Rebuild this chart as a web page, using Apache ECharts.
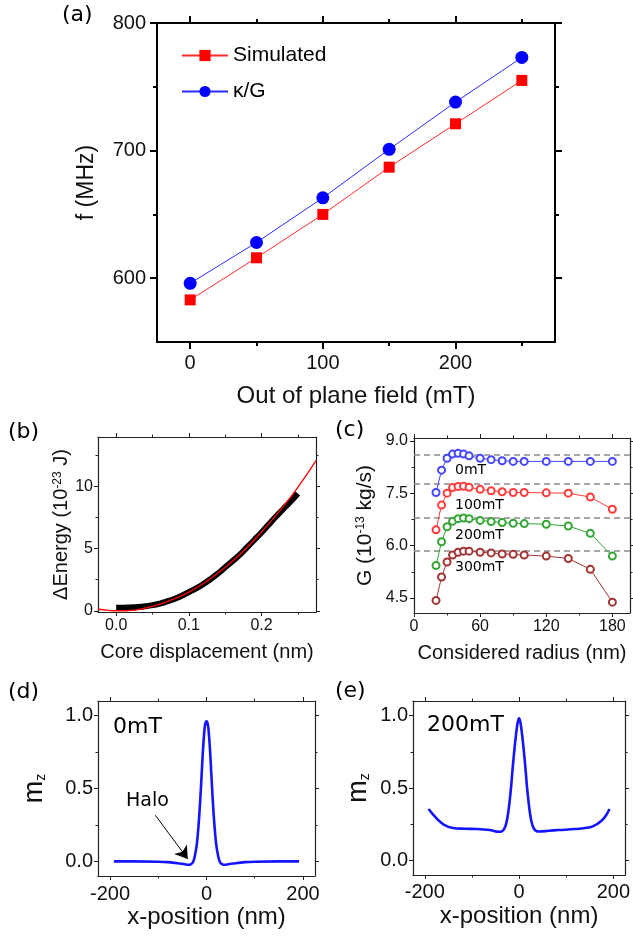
<!DOCTYPE html>
<html><head><meta charset="utf-8">
<script src="https://cdn.jsdelivr.net/npm/echarts@6/dist/echarts.min.js"></script>
<style>html,body{margin:0;padding:0;background:#fff}#c{width:633px;height:937px}</style>
</head><body><div id="c"></div>
<script>
// ---------- Panel (a) ----------
const fieldA = [0, 50, 100, 150, 200, 250];
const simulatedA = [583, 616, 650, 687, 721, 755];
const kappaGA = [596, 628, 663, 701, 738, 773];
const aXMajor = [0, 100, 200], aXMinor = [50, 150, 250];
const aYMajor = [600, 700, 800], aYMinor = [650, 750];

// ---------- Panel (b) ----------
const bandX = [0, 0.01, 0.02, 0.03, 0.04, 0.05, 0.06, 0.07, 0.08, 0.09, 0.10, 0.11, 0.12, 0.13, 0.14, 0.15, 0.16, 0.17, 0.18, 0.19, 0.20, 0.21, 0.22, 0.23, 0.24, 0.25];
const bandY = [0.25, 0.25, 0.27, 0.30, 0.36, 0.45, 0.58, 0.75, 0.95, 1.2, 1.5, 1.8, 2.15, 2.55, 3.0, 3.5, 4.0, 4.5, 5.1, 5.7, 6.3, 6.95, 7.6, 8.2, 8.8, 9.45];
const fitX = [-0.025, -0.01, 0, 0.01, 0.02, 0.03, 0.05, 0.075, 0.1, 0.125, 0.15, 0.175, 0.2, 0.225, 0.25, 0.275];
const fitY = [0.12, 0.03, 0.0, 0.0, 0.03, 0.1, 0.35, 0.85, 1.5, 2.4, 3.5, 4.8, 6.35, 8.05, 9.95, 12.1];
const bXMajor = [0, 0.1, 0.2], bXMinor = [0.05, 0.15, 0.25];
const bYMajor = [0, 5, 10], bYMinor = [2.5, 7.5, 12.5];

// ---------- Panel (c) ----------
const radiusC = [20, 25, 30, 35, 40, 45, 50, 60, 70, 80, 90, 100, 120, 140, 160, 180];
const g0mT = [7.52, 8.16, 8.50, 8.62, 8.64, 8.62, 8.57, 8.50, 8.46, 8.43, 8.41, 8.41, 8.41, 8.41, 8.41, 8.41];
const g100mT = [6.45, 7.16, 7.50, 7.66, 7.69, 7.70, 7.67, 7.61, 7.57, 7.54, 7.52, 7.52, 7.51, 7.50, 7.39, 7.04];
const g200mT = [5.43, 6.11, 6.54, 6.70, 6.77, 6.79, 6.77, 6.72, 6.69, 6.66, 6.64, 6.63, 6.61, 6.56, 6.35, 5.70];
const g300mT = [4.43, 5.10, 5.53, 5.73, 5.81, 5.84, 5.84, 5.81, 5.79, 5.76, 5.75, 5.73, 5.70, 5.63, 5.32, 4.38];
const refLinesC = [8.59, 7.78, 6.79, 5.84];
const fieldLabelsC = ['0mT', '100mT', '200mT', '300mT'];
const cXMajor = [0, 60, 120, 180], cXMinor = [30, 90, 150];
const cYMajor = [4.5, 6.0, 7.5, 9.0], cYMinor = [5.25, 6.75, 8.25];

// ---------- Panel (d) ----------
const posD = [-192, -150, -100, -80, -60, -45, -38, -32, -28, -24, -20, -16, -13, -10, -7, -4, -2, 0, 2, 4, 7, 10, 13, 16, 20, 24, 28, 32, 38, 45, 60, 80, 100, 150, 192];
const mzD = [0, 0, -0.002, -0.005, -0.012, -0.02, -0.023, -0.018, -0.006, 0.04, 0.12, 0.27, 0.42, 0.6, 0.78, 0.91, 0.95, 0.96, 0.95, 0.91, 0.78, 0.6, 0.42, 0.27, 0.12, 0.04, -0.006, -0.018, -0.023, -0.02, -0.012, -0.005, -0.002, 0, 0];
const haloArrow = [[-106, 0.316], [-39, 0.017]];

// ---------- Panel (e) ----------
const posE = [-192, -175, -160, -140, -115, -90, -63, -42, -32, -25, -18, -14, -10, -6, -3, 0, 3, 6, 10, 14, 18, 25, 32, 42, 63, 84, 119, 151, 165, 180, 192];
const mzE = [0.355, 0.29, 0.248, 0.224, 0.219, 0.217, 0.21, 0.198, 0.215, 0.29, 0.47, 0.62, 0.76, 0.88, 0.95, 0.98, 0.95, 0.88, 0.76, 0.62, 0.47, 0.29, 0.217, 0.2, 0.205, 0.21, 0.217, 0.229, 0.25, 0.29, 0.355];
const deXMajor = [-200, 0, 200], deXMinor = [-100, 100];
const deYMajor = [0, 0.5, 1.0], deYMinor = [0.25, 0.75];

const AF = "'Liberation Sans', Arial, sans-serif";
const DF = "'DejaVu Sans', sans-serif";

const xAxes = [], yAxes = [];
function addAxes(list, dim, gi, o) {
  const posMain = dim === 'x' ? 'bottom' : 'left';
  const posOpp = dim === 'x' ? 'top' : 'right';
  const base = { type: 'value', gridIndex: gi, min: o.min, max: o.max, splitLine: { show: false }, silent: true };
  const mainIdx = list.length;
  [posMain, posOpp].forEach((pos, k) => {
    list.push(Object.assign({}, base, {
      position: pos,
      axisLine: { show: true, onZero: false, lineStyle: { color: o.lineColor, width: o.lineW } },
      axisTick: { show: true, inside: false, length: o.majorLen, customValues: o.majors, lineStyle: { color: o.lineColor, width: o.tickW } },
      axisLabel: k === 0 ? { show: true, customValues: o.majors, formatter: o.fmt, margin: o.margin, fontSize: o.fontSize, fontFamily: o.font, color: '#111' } : { show: false },
      name: k === 0 ? o.name : '',
      nameLocation: 'middle', nameGap: o.nameGap, nameRotate: dim === 'y' ? 90 : 0,
      nameTextStyle: o.nameStyle
    }));
    list.push(Object.assign({}, base, {
      position: pos,
      axisLine: { show: false, onZero: false },
      axisTick: { show: true, inside: false, length: o.minorLen, customValues: o.minors, lineStyle: { color: o.lineColor, width: o.tickW } },
      axisLabel: { show: false }
    }));
  });
  return mainIdx;
}

const grids = [
  { left: 157, top: 23, width: 398, height: 319 },
  { left: 98, top: 437, width: 218, height: 175 },
  { left: 414, top: 438, width: 216, height: 175 },
  { left: 98, top: 701, width: 217, height: 175 },
  { left: 413, top: 701, width: 217, height: 174 }
];

const thin = { lineColor: '#222', lineW: 1.2, tickW: 1, majorLen: 4, minorLen: 2.5 };
// (a)
const axA = addAxes(xAxes, 'x', 0, { min: -25, max: 275, majors: aXMajor, minors: aXMinor, fmt: v => String(v), margin: 11, fontSize: 20, font: AF, lineColor: '#000', lineW: 2, tickW: 2, majorLen: 7, minorLen: 4, name: 'Out of plane field (mT)', nameGap: 42, nameStyle: { fontSize: 24, fontFamily: AF, color: '#111' } });
const ayA = addAxes(yAxes, 'y', 0, { min: 550, max: 800, majors: aYMajor, minors: aYMinor, fmt: v => String(v), margin: 11, fontSize: 20, font: AF, lineColor: '#000', lineW: 2, tickW: 2, majorLen: 7, minorLen: 4, name: 'f (MHz)', nameGap: 59, nameStyle: { fontSize: 23, fontFamily: AF, color: '#111' } });
// (b)
const axB = addAxes(xAxes, 'x', 1, Object.assign({ min: -0.025, max: 0.275, majors: bXMajor, minors: bXMinor, fmt: v => v.toFixed(1), margin: 6, fontSize: 16, font: AF, name: 'Core displacement (nm)', nameGap: 30, nameStyle: { fontSize: 20, fontFamily: AF, color: '#111' } }, thin));
const ayB = addAxes(yAxes, 'y', 1, Object.assign({ min: -0.1, max: 14, majors: bYMajor, minors: bYMinor, fmt: v => String(v), margin: 5, fontSize: 16, font: AF, name: '{a|\u0394Energy (10}{s|-23}{a| J)}', nameGap: 26, nameStyle: { fontFamily: AF, color: '#111', rich: { a: { fontSize: 20, fontFamily: AF, color: '#111' }, s: { fontSize: 12, fontFamily: AF, color: '#111', verticalAlign: 'top' } } } }, thin));
// (c)
const axC = addAxes(xAxes, 'x', 2, Object.assign({ min: 0, max: 196, majors: cXMajor, minors: cXMinor, fmt: v => String(v), margin: 6, fontSize: 16, font: AF, name: 'Considered radius (nm)', nameGap: 30, nameStyle: { fontSize: 20, fontFamily: AF, color: '#111' } }, thin));
const ayC = addAxes(yAxes, 'y', 2, Object.assign({ min: 4.07, max: 9.08, majors: cYMajor, minors: cYMinor, fmt: v => v.toFixed(1), margin: 6, fontSize: 16, font: AF, name: '{a|G (10}{s|-13}{a| kg/s)}', nameGap: 38, nameStyle: { fontFamily: AF, color: '#111', rich: { a: { fontSize: 21, fontFamily: AF, color: '#111' }, s: { fontSize: 12, fontFamily: AF, color: '#111', verticalAlign: 'top' } } } }, thin));
// (d)
const axD = addAxes(xAxes, 'x', 3, Object.assign({ min: -225, max: 225, majors: deXMajor, minors: deXMinor, fmt: v => String(v), margin: 8, fontSize: 20, font: AF, name: 'x-position (nm)', nameGap: 29, nameStyle: { fontSize: 24, fontFamily: AF, color: '#111' } }, thin));
const ayD = addAxes(yAxes, 'y', 3, Object.assign({ min: -0.1, max: 1.1, majors: deYMajor, minors: deYMinor, fmt: v => v.toFixed(1), margin: 5, fontSize: 20, font: AF, name: '{m|m}{z|z}', nameGap: 50, nameStyle: { fontFamily: AF, color: '#111', rich: { m: { fontSize: 27, fontFamily: AF, color: '#111' }, z: { fontSize: 14, fontFamily: AF, color: '#111', verticalAlign: 'bottom' } } } }, thin));
// (e)
const axE = addAxes(xAxes, 'x', 4, Object.assign({ min: -225, max: 225, majors: deXMajor, minors: deXMinor, fmt: v => String(v), margin: 7, fontSize: 20, font: AF, name: 'x-position (nm)', nameGap: 29, nameStyle: { fontSize: 24, fontFamily: AF, color: '#111' } }, thin));
const ayE = addAxes(yAxes, 'y', 4, Object.assign({ min: -0.1, max: 1.1, majors: deYMajor, minors: deYMinor, fmt: v => v.toFixed(1), margin: 5, fontSize: 20, font: AF, name: '{m|m}{z|z}', nameGap: 41, nameStyle: { fontFamily: AF, color: '#111', rich: { m: { fontSize: 27, fontFamily: AF, color: '#111' }, z: { fontSize: 14, fontFamily: AF, color: '#111', verticalAlign: 'bottom' } } } }, thin));

const zip = (xs, ys) => xs.map((x, i) => [x, ys[i]]);
const cColors = ['#4646ff', '#ff3c3c', '#35a535', '#a33434'];
const cSeries = [g0mT, g100mT, g200mT, g300mT].map((arr, i) => ({
  type: 'line', name: fieldLabelsC[i], xAxisIndex: axC, yAxisIndex: ayC,
  data: zip(radiusC, arr), symbol: 'emptyCircle', symbolSize: 7,
  itemStyle: { color: cColors[i], borderWidth: 1 }, lineStyle: { color: cColors[i], width: 1 },
  z: 3,
  markLine: i === 0 ? {
    silent: true, symbol: ['none', 'none'], label: { show: false },
    lineStyle: { color: '#8a8a8a', type: [6, 4], width: 1.5 },
    data: refLinesC.map(v => ({ yAxis: v })), z: 1
  } : undefined
}));

const txt = (text, x, y, size, font) => ({
  type: 'text', x: x, y: y, silent: true,
  style: { text: text, fontSize: size, fontFamily: font || DF, fill: '#000', textAlign: 'left', textVerticalAlign: 'middle', align: 'left', verticalAlign: 'middle' }
});

const option = {
  animation: false,
  backgroundColor: '#fff',
  grid: grids,
  xAxis: xAxes,
  yAxis: yAxes,
  legend: {
    data: ['Simulated', '\u03BA/G'], orient: 'vertical', left: 181, top: 45, padding: 0,
    itemWidth: 46, itemHeight: 14, itemGap: 15, selectedMode: false,
    textStyle: { fontSize: 21, fontFamily: AF, color: '#000' }
  },
  series: [
    { type: 'line', name: 'Simulated', xAxisIndex: axA, yAxisIndex: ayA, data: zip(fieldA, simulatedA), symbol: 'rect', symbolSize: 11, itemStyle: { color: '#ff0000' }, lineStyle: { color: '#ff2a2a', width: 1 } },
    { type: 'line', name: '\u03BA/G', xAxisIndex: axA, yAxisIndex: ayA, data: zip(fieldA, kappaGA), symbol: 'circle', symbolSize: 13, itemStyle: { color: '#0000ff' }, lineStyle: { color: '#2a2aff', width: 1 } },
    { type: 'line', name: 'data', xAxisIndex: axB, yAxisIndex: ayB, data: zip(bandX, bandY), symbol: 'none', smooth: true, lineStyle: { color: '#000', width: 6, cap: 'butt' } },
    { type: 'line', name: 'fit', xAxisIndex: axB, yAxisIndex: ayB, data: zip(fitX, fitY), symbol: 'none', smooth: true, lineStyle: { color: '#ff0000', width: 1.3 } },
    ...cSeries,
    { type: 'line', name: 'mz0', xAxisIndex: axD, yAxisIndex: ayD, data: zip(posD, mzD), symbol: 'none', smooth: 0.4, lineStyle: { color: '#1414ff', width: 2.6 },
      markLine: { silent: true, symbol: ['none', 'arrow'], symbolSize: 12, label: { show: false }, lineStyle: { color: '#000', width: 1, type: 'solid' },
        data: [[{ coord: haloArrow[0] }, { coord: haloArrow[1] }]] } },
    { type: 'line', name: 'mz200', xAxisIndex: axE, yAxisIndex: ayE, data: zip(posE, mzE), symbol: 'none', smooth: 0.4, lineStyle: { color: '#1414ff', width: 2.6 } }
  ],
  graphic: [
    txt('(a)', 62, 15, 22),
    txt('(b)', 8, 432, 22),
    txt('(c)', 335, 430, 22),
    txt('(d)', 8, 692, 22),
    txt('(e)', 335, 691, 22),
    txt('0mT', 455, 470, 14),
    txt('100mT', 455, 505, 14),
    txt('200mT', 455, 535, 14),
    txt('300mT', 455, 567, 14),
    txt('0mT', 113, 727, 22),
    txt('Halo', 126, 801, 19),
    txt('200mT', 427, 725, 22)
  ]
};
echarts.init(document.getElementById('c'), null, { renderer: 'canvas' }).setOption(option);
</script>
</body></html>
